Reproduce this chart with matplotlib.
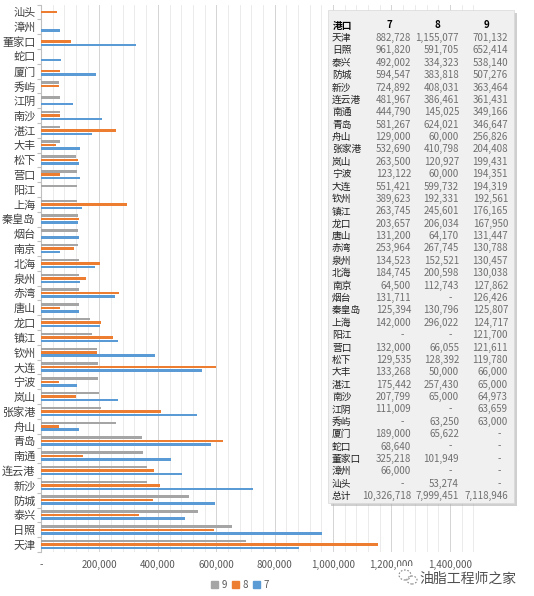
import matplotlib
matplotlib.use("Agg")
import matplotlib.pyplot as plt
import numpy as np
from matplotlib.patches import Patch, Rectangle, Ellipse
from matplotlib.ticker import MultipleLocator, FuncFormatter

plt.rcParams['font.family'] = ['Noto Sans CJK SC', 'DejaVu Sans']

# 港口 (table order, 天津 at the bottom of the chart)
ports = ['天津', '日照', '泰兴', '防城', '新沙', '连云港', '南通', '青岛', '舟山', '张家港',
         '岚山', '宁波', '大连', '钦州', '镇江', '龙口', '唐山', '赤湾', '泉州', '北海',
         '南京', '烟台', '秦皇岛', '上海', '阳江', '营口', '松下', '大丰', '湛江', '南沙',
         '江阴', '秀屿', '厦门', '蛇口', '董家口', '漳州', '汕头']
m7 = [882728, 961820, 492002, 594547, 724892, 481967, 444790, 581267, 129000, 532690,
      263500, 123122, 551421, 389623, 263745, 203657, 131200, 253964, 134523, 184745,
      64500, 131711, 125394, 142000, None, 132000, 129535, 133268, 175442, 207799,
      111009, None, 189000, 68640, 325218, 66000, None]
m8 = [1155077, 591705, 334323, 383818, 408031, 386461, 145025, 624021, 60000, 410798,
      120927, 60000, 599732, 192331, 245601, 206034, 64170, 267745, 152521, 200598,
      112743, None, 130796, 296022, None, 66055, 128392, 50000, 257430, 65000,
      None, 63250, 65622, None, 101949, None, 53274]
m9 = [701132, 652414, 538140, 507276, 363464, 361431, 349166, 346647, 256826, 204408,
      199431, 194351, 194319, 192561, 176165, 167950, 131447, 130788, 130457, 130038,
      127862, 126426, 125807, 124717, 121700, 121611, 119780, 66000, 65000, 64973,
      63659, 63000, None, None, None, None, None]
totals = ['10,326,718', '7,999,451', '7,118,946']
months = ['7', '8', '9']

C7, C8, C9 = '#5b9bd5', '#ed7d31', '#a5a5a5'
W, H = 534, 596


def fx(x):
    return x / W


def fy(y):
    return 1 - y / H


fig = plt.figure(figsize=(W / 100, H / 100), dpi=100)
ax = fig.add_axes([fx(41), fy(552), fx(482) - fx(41), fy(4.6) - fy(552)])

y = np.arange(len(ports))
v7 = np.array([v or 0 for v in m7])
v8 = np.array([v or 0 for v in m8])
v9 = np.array([v or 0 for v in m9])
bh = 0.17
off = 0.235
ax.barh(y + off, v9, height=bh, color=C9, zorder=3)
ax.barh(y, v8, height=bh, color=C8, zorder=3)
ax.barh(y - off, v7, height=bh, color=C7, zorder=3)

ax.set_ylim(-0.5, len(ports) - 0.5)
ax.set_xlim(0, 1510000)
ax.set_yticks(y)
ax.set_yticklabels(ports, fontsize=8, color='#404040')
ax.yaxis.set_minor_locator(matplotlib.ticker.FixedLocator(np.arange(-0.5, len(ports), 1)))
ax.tick_params(axis='y', which='major', length=0, pad=4)
ax.tick_params(axis='y', which='minor', length=3, color='#bfbfbf', width=0.8)

ax.xaxis.set_major_locator(MultipleLocator(200000))
ax.xaxis.set_minor_locator(MultipleLocator(40000))
ax.xaxis.set_major_formatter(FuncFormatter(lambda v, p: '-' if v == 0 else f'{int(v):,}'))
ax.tick_params(axis='x', which='both', length=0, labelsize=7, labelcolor='#595959', pad=6)
ax.grid(axis='x', which='major', color='#d4d4d4', linewidth=0.7, zorder=0)
ax.grid(axis='x', which='minor', color='#e8e8e8', linewidth=0.6, zorder=0)

for s in ['top', 'right', 'bottom']:
    ax.spines[s].set_visible(False)
ax.spines['left'].set_color('#bfbfbf')
ax.spines['left'].set_linewidth(0.8)

handles = [Patch(color=C9, label='9'), Patch(color=C8, label='8'), Patch(color=C7, label='7')]
fig.legend(handles=handles, loc='center', bbox_to_anchor=(fx(240), fy(585)), ncol=3,
           frameon=False, fontsize=7, handlelength=0.7, handleheight=0.7,
           handletextpad=0.3, columnspacing=0.6, labelcolor='#595959')

# pasted table on the right
fig.patches.append(Rectangle((fx(331), fy(506)), fx(514) - fx(328), fy(10) - fy(503),
                             transform=fig.transFigure, facecolor='#b0b0b0', alpha=0.6,
                             edgecolor='none', zorder=4))
fig.patches.append(Rectangle((fx(328), fy(503)), fx(514) - fx(328), fy(10) - fy(503),
                             transform=fig.transFigure, facecolor='#f0f0f0',
                             edgecolor='#d8d8d8', linewidth=0.5, zorder=5))

tkw = dict(transform=fig.transFigure, fontsize=7, va='center', zorder=6)
right_edges = [411, 459, 508]
fig.text(fx(333), fy(25.5), '港口', fontweight='bold', ha='left', color='black', **tkw)
for j, h in enumerate(months):
    fig.text(fx(right_edges[j] - 22), fy(25.5), h, fontweight='bold', ha='center', color='black', **tkw)

row0, step = 38, 12.38
for i, name in enumerate(ports):
    yy = fy(row0 + step * i)
    fig.text(fx(332), yy, name, ha='left', color='#202020', **tkw)
    for j, col in enumerate([m7, m8, m9]):
        v = col[i]
        if v is None:
            fig.text(fx(right_edges[j] - 9), yy, '-', ha='center', color='#707070', **tkw)
        else:
            fig.text(fx(right_edges[j]), yy, f'{v:,}', ha='right', color='#707070', **tkw)
yy = fy(row0 + step * len(ports))
fig.text(fx(332), yy, '总计', ha='left', color='#202020', **tkw)
for j, t in enumerate(totals):
    fig.text(fx(right_edges[j]), yy, t, ha='right', color='#707070', **tkw)

# watermark
fig.patches.append(Rectangle((fx(398), fy(588)), fx(414) - fx(398), fy(566) - fy(588),
                             transform=fig.transFigure, facecolor='white',
                             edgecolor='none', zorder=7))
fig.patches.append(Ellipse((fx(405), fy(575)), fx(12), fy(0) - fy(10), transform=fig.transFigure,
                           fill=False, edgecolor='#888888', linestyle=(0, (1.5, 1.5)),
                           linewidth=0.8, zorder=8))
fig.patches.append(Ellipse((fx(412), fy(580)), fx(10), fy(0) - fy(8), transform=fig.transFigure,
                           fill=False, edgecolor='#888888', linestyle=(0, (1.5, 1.5)),
                           linewidth=0.8, zorder=8))
fig.text(fx(419), fy(579), '油脂工程师之家', transform=fig.transFigure, fontsize=10,
         color='#505050', ha='left', va='center', zorder=9)

fig.savefig('out.png', dpi=100)
